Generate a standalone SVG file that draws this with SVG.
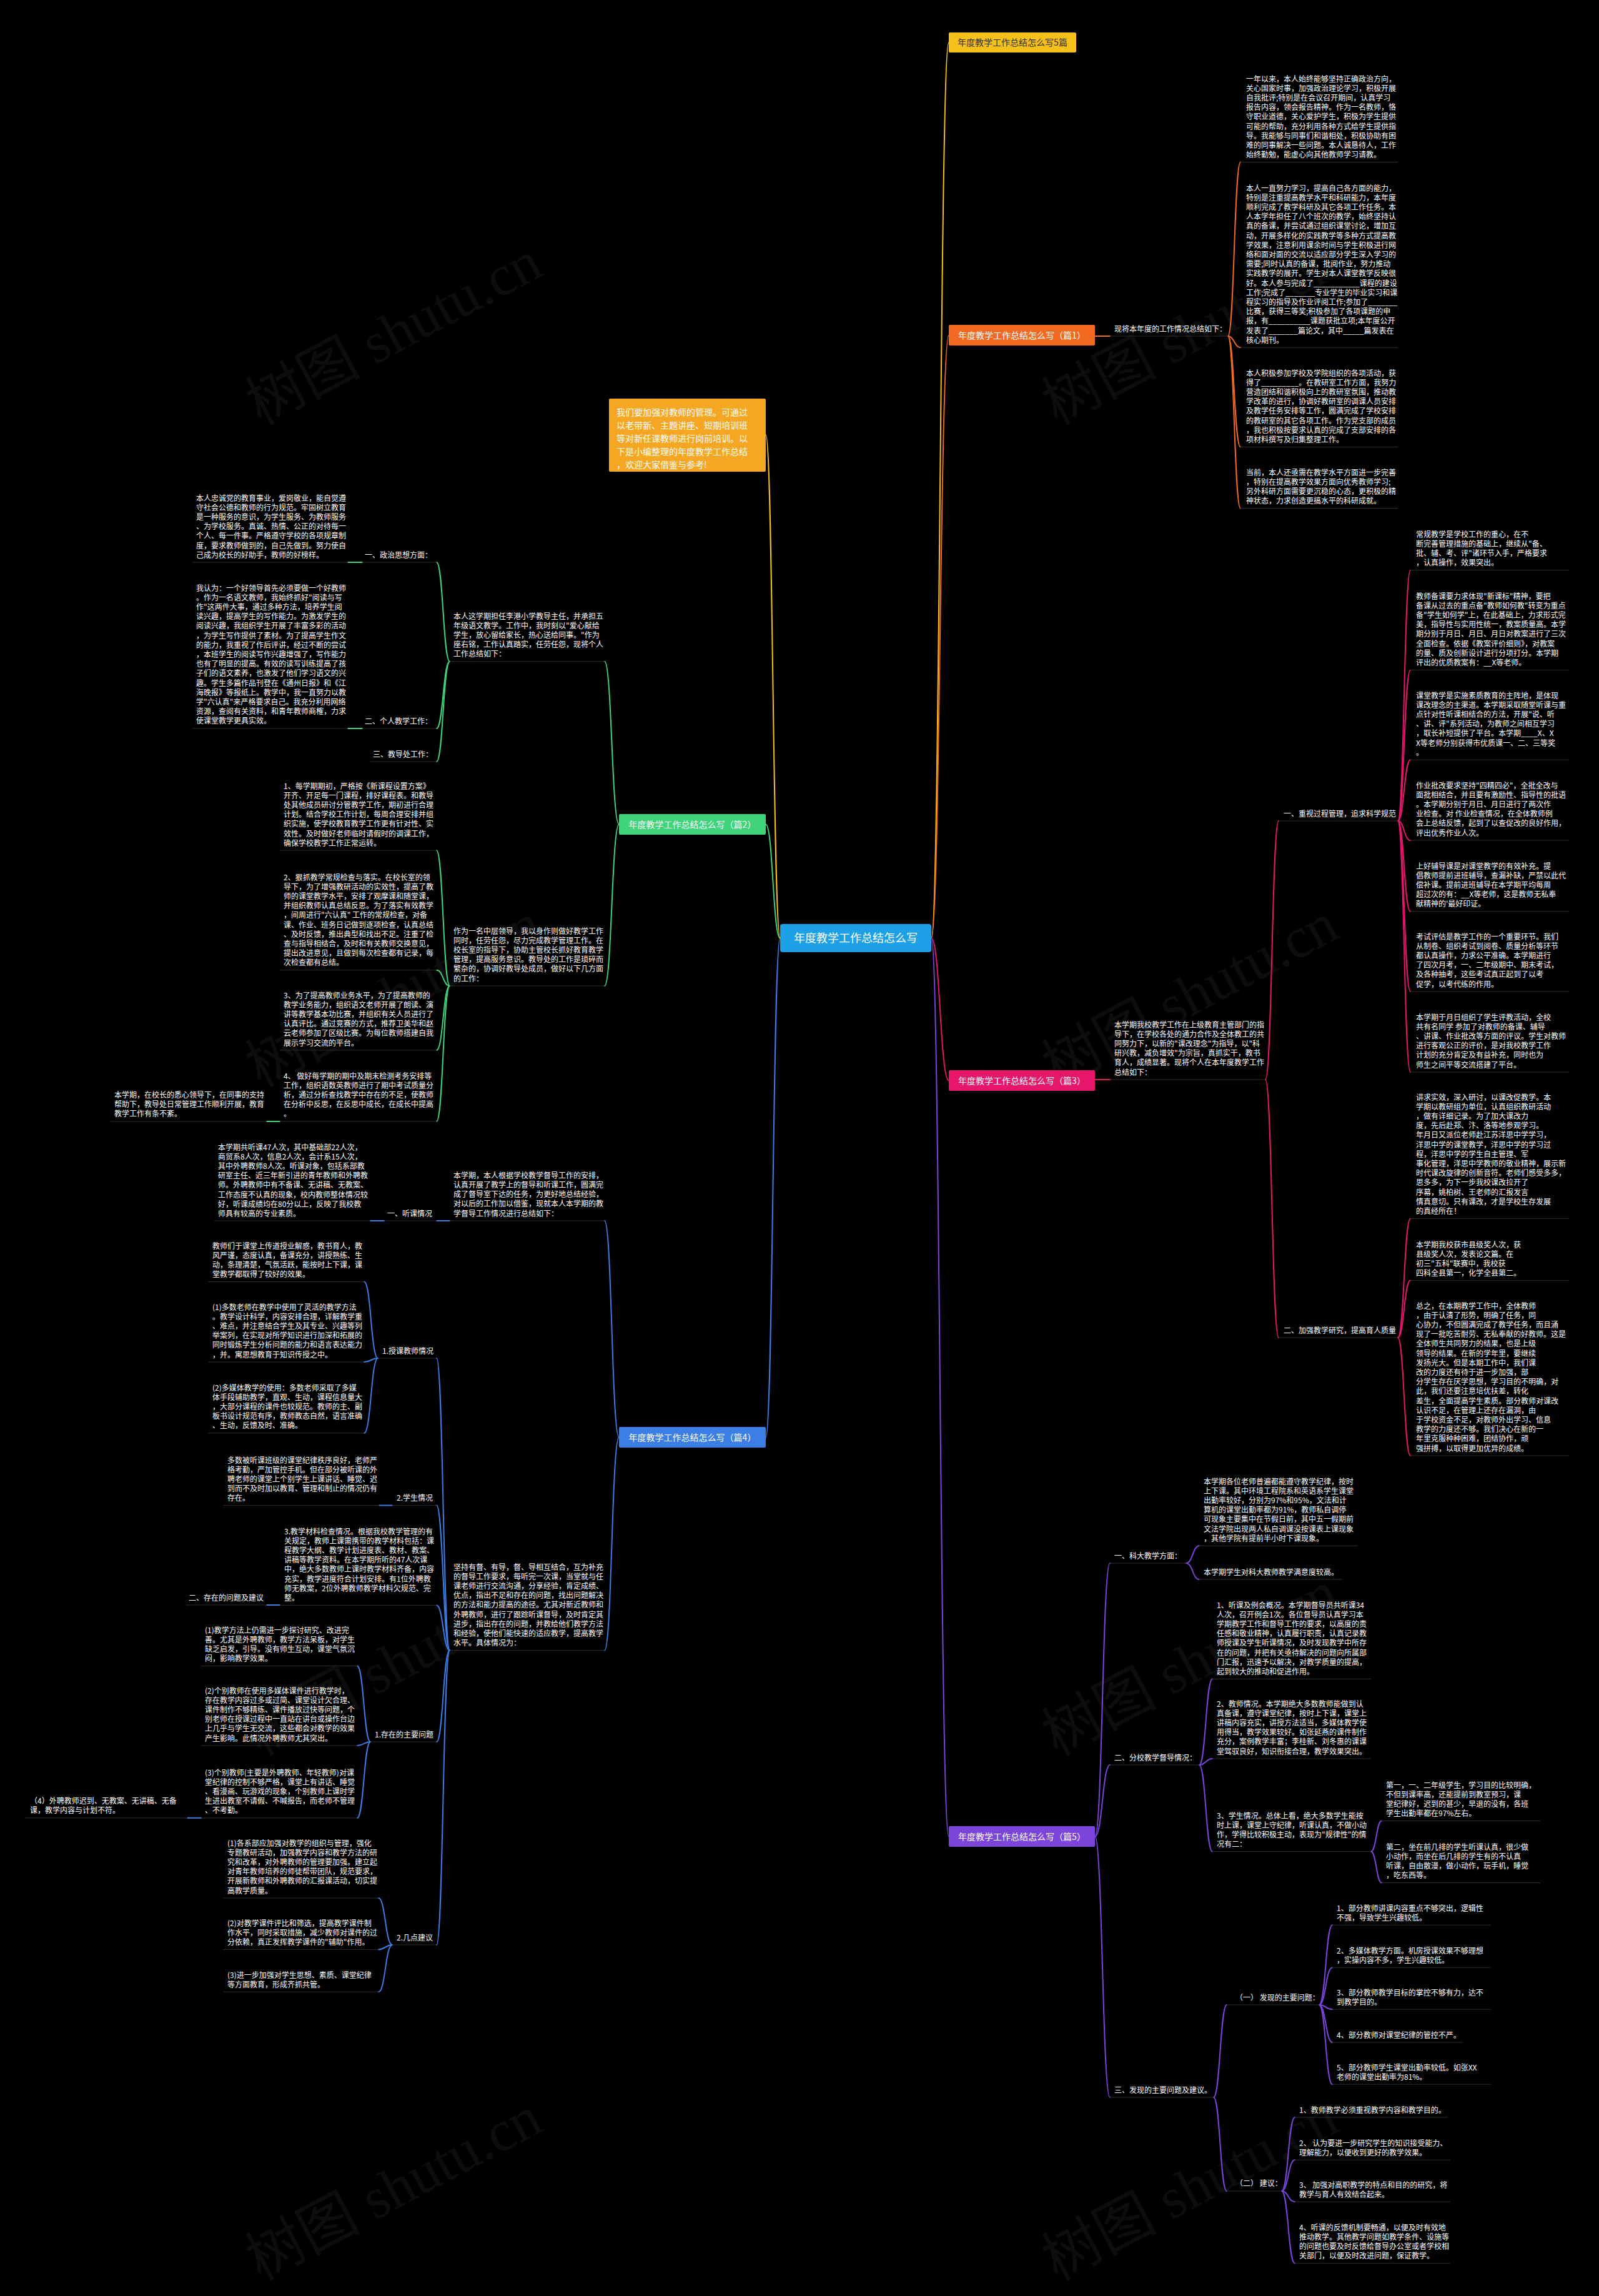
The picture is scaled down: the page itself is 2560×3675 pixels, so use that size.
<svg xmlns="http://www.w3.org/2000/svg" width="2560" height="3675" viewBox="0 0 2560 3675">
<style>
.t{font-family:"Noto Sans CJK SC","Noto Sans",sans-serif;font-size:12px;fill:#ffffff;}
.lb{font-family:"Noto Sans CJK SC","Noto Sans",sans-serif;font-size:12px;fill:#ffffff;}
.bn{font-family:"Noto Sans CJK SC","Noto Sans",sans-serif;font-size:14px;fill:#ffffff;text-anchor:middle;}
.ul{stroke:#2f2f2f;stroke-width:1;fill:none;}
.wm{font-family:"Liberation Serif","Noto Sans CJK SC",serif;font-size:92px;fill:#ffffff;opacity:0.05;}
path,line.c{fill:none;stroke-width:2;stroke-linecap:round;}
.cy{stroke:#f6c01b;}.co{stroke:#f26a21;}.cp{stroke:#e6176b;}.cv{stroke:#7b45dc;}.cg{stroke:#3fd37a;}.cb{stroke:#3b7ee6;}
</style>
<rect x="0" y="0" width="2560" height="3675" fill="#000000"/>
<g id="watermarks">
<text class="wm" transform="translate(645,560) rotate(-28)" text-anchor="middle">树图 shutu.cn</text>
<text class="wm" transform="translate(1920,560) rotate(-28)" text-anchor="middle">树图 shutu.cn</text>
<text class="wm" transform="translate(645,1620) rotate(-28)" text-anchor="middle">树图 shutu.cn</text>
<text class="wm" transform="translate(1920,1620) rotate(-28)" text-anchor="middle">树图 shutu.cn</text>
<text class="wm" transform="translate(645,2690) rotate(-28)" text-anchor="middle">树图 shutu.cn</text>
<text class="wm" transform="translate(1920,2690) rotate(-28)" text-anchor="middle">树图 shutu.cn</text>
<text class="wm" transform="translate(645,3530) rotate(-28)" text-anchor="middle">树图 shutu.cn</text>
<text class="wm" transform="translate(1920,3530) rotate(-28)" text-anchor="middle">树图 shutu.cn</text>
</g>
<g id="connectors">
<path class="cy" stroke-width="3" d="M1491 1501.5 C1505 1501.5 1505 68 1519 68"/>
<path class="co" stroke-width="3" d="M1491 1501.5 C1505 1501.5 1505 537 1519 537"/>
<path class="cp" stroke-width="3" d="M1491 1501.5 C1505 1501.5 1505 1729.5 1519 1729.5"/>
<path class="cv" stroke-width="3" d="M1491 1501.5 C1505 1501.5 1505 2939.5 1519 2939.5"/>
<path class="cg" stroke-width="3" d="M1249 1501.5 C1237.5 1501.5 1237.5 1319.5 1226 1319.5"/>
<path class="cb" stroke-width="3" d="M1249 1501.5 C1237.5 1501.5 1237.5 2300.5 1226 2300.5"/>
<path class="cy" stroke-width="3" d="M1249 1501.5 C1237.5 1501.5 1237.5 696 1226 696"/>
<path class="co" d="M1753 538 L1777 538"/>
<path class="co" d="M1966 538 C1976 538 1976 259.6 1986 259.6"/>
<path class="co" d="M1966 538 C1976 538 1976 556.2 1986 556.2"/>
<path class="co" d="M1966 538 C1976 538 1976 715.4 1986 715.4"/>
<path class="co" d="M1966 538 C1976 538 1976 813.6 1986 813.6"/>
<path class="cp" d="M1753 1728 L1777 1728"/>
<path class="cp" d="M2026 1728 C2036.5 1728 2036.5 1314 2047 1314"/>
<path class="cp" d="M2026 1728 C2036.5 1728 2036.5 2141 2047 2141"/>
<path class="cp" d="M2238 1314 C2248 1314 2248 912.6 2258 912.6"/>
<path class="cp" d="M2238 1314 C2248 1314 2248 1072.4 2258 1072.4"/>
<path class="cp" d="M2238 1314 C2248 1314 2248 1216.2 2258 1216.2"/>
<path class="cp" d="M2238 1314 C2248 1314 2248 1345 2258 1345"/>
<path class="cp" d="M2238 1314 C2248 1314 2248 1458.8 2258 1458.8"/>
<path class="cp" d="M2238 1314 C2248 1314 2248 1587 2258 1587"/>
<path class="cp" d="M2238 1314 C2248 1314 2248 1716 2258 1716"/>
<path class="cp" d="M2238 2141 C2248 2141 2248 1950.4 2258 1950.4"/>
<path class="cp" d="M2238 2141 C2248 2141 2248 2049.6 2258 2049.6"/>
<path class="cp" d="M2238 2141 C2248 2141 2248 2330 2258 2330"/>
<path class="cv" d="M1753 2939.5 C1765 2939.5 1765 2502 1777 2502"/>
<path class="cv" d="M1753 2939.5 C1765 2939.5 1765 2825 1777 2825"/>
<path class="cv" d="M1753 2939.5 C1765 2939.5 1765 3357 1777 3357"/>
<path class="cv" d="M1899 2502 C1909.5 2502 1909.5 2474.2 1920 2474.2"/>
<path class="cv" d="M1899 2502 C1909.5 2502 1909.5 2528 1920 2528"/>
<path class="cv" d="M1920 2825 C1930.5 2825 1930.5 2687.4 1941 2687.4"/>
<path class="cv" d="M1920 2825 C1930.5 2825 1930.5 2815 1941 2815"/>
<path class="cv" d="M1920 2825 C1930.5 2825 1930.5 2963.6 1941 2963.6"/>
<path class="cv" d="M2195 2963.6 C2203.5 2963.6 2203.5 2914.6 2212 2914.6"/>
<path class="cv" d="M2195 2963.6 C2203.5 2963.6 2203.5 3013.6 2212 3013.6"/>
<path class="cv" d="M1943 3357 C1953.5 3357 1953.5 3209 1964 3209"/>
<path class="cv" d="M1943 3357 C1953.5 3357 1953.5 3507 1964 3507"/>
<path class="cv" d="M2112 3209 C2122.5 3209 2122.5 3081.2 2133 3081.2"/>
<path class="cv" d="M2112 3209 C2122.5 3209 2122.5 3149.2 2133 3149.2"/>
<path class="cv" d="M2112 3209 C2122.5 3209 2122.5 3216.2 2133 3216.2"/>
<path class="cv" d="M2112 3209 C2122.5 3209 2122.5 3269 2133 3269"/>
<path class="cv" d="M2112 3209 C2122.5 3209 2122.5 3336.2 2133 3336.2"/>
<path class="cv" d="M2052 3507 C2062.5 3507 2062.5 3389 2073 3389"/>
<path class="cv" d="M2052 3507 C2062.5 3507 2062.5 3457.2 2073 3457.2"/>
<path class="cv" d="M2052 3507 C2062.5 3507 2062.5 3524.2 2073 3524.2"/>
<path class="cv" d="M2052 3507 C2062.5 3507 2062.5 3622.6 2073 3622.6"/>
<path class="cg" d="M991 1319.5 C979.5 1319.5 979.5 1058.8 968 1058.8"/>
<path class="cg" d="M991 1319.5 C979.5 1319.5 979.5 1578 968 1578"/>
<path class="cg" d="M720 1058.8 C709.5 1058.8 709.5 900 699 900"/>
<path class="cg" d="M720 1058.8 C709.5 1058.8 709.5 1166 699 1166"/>
<path class="cg" d="M720 1058.8 C709.5 1058.8 709.5 1219 699 1219"/>
<path class="cg" d="M580 900 L557 900"/>
<path class="cg" d="M580 1166 L557 1166"/>
<path class="cg" d="M720 1578 C709.5 1578 709.5 1361.2 699 1361.2"/>
<path class="cg" d="M720 1578 C709.5 1578 709.5 1552.8 699 1552.8"/>
<path class="cg" d="M720 1578 C709.5 1578 709.5 1681 699 1681"/>
<path class="cg" d="M720 1578 C709.5 1578 709.5 1794.8 699 1794.8"/>
<path class="cg" d="M448 1795 L427 1795"/>
<path class="cb" d="M991 2300.5 C979.5 2300.5 979.5 1954 968 1954"/>
<path class="cb" d="M991 2300.5 C979.5 2300.5 979.5 2641.6 968 2641.6"/>
<path class="cb" d="M720 1954 L699 1954"/>
<path class="cb" d="M615 1954 L593 1954"/>
<path class="cb" d="M720 2641.6 C709.5 2641.6 709.5 2174 699 2174"/>
<path class="cb" d="M720 2641.6 C709.5 2641.6 709.5 2409.5 699 2409.5"/>
<path class="cb" d="M720 2641.6 C709.5 2641.6 709.5 2569.4 699 2569.4"/>
<path class="cb" d="M720 2641.6 C709.5 2641.6 709.5 2788 699 2788"/>
<path class="cb" d="M720 2641.6 C709.5 2641.6 709.5 3113 699 3113"/>
<path class="cb" d="M605 2174 C594 2174 594 2051.6 583 2051.6"/>
<path class="cb" d="M605 2174 C594 2174 594 2180 583 2180"/>
<path class="cb" d="M605 2174 C594 2174 594 2293.8 583 2293.8"/>
<path class="cb" d="M628 2409.5 L607 2409.5"/>
<path class="cb" d="M448 2569 L427 2569"/>
<path class="cb" d="M593 2788 C582.5 2788 582.5 2666.6 572 2666.6"/>
<path class="cb" d="M593 2788 C582.5 2788 582.5 2794 572 2794"/>
<path class="cb" d="M593 2788 C582.5 2788 582.5 2909.8 572 2909.8"/>
<path class="cb" d="M322 2909.8 L300 2909.8"/>
<path class="cb" d="M628 3113 C617 3113 617 3038 606 3038"/>
<path class="cb" d="M628 3113 C617 3113 617 3120.4 606 3120.4"/>
<path class="cb" d="M628 3113 C617 3113 617 3188.2 606 3188.2"/>
</g>

<g id="center"><rect x="1249" y="1479" width="242" height="45" rx="4" fill="#1ea0e6"/><text x="1370" y="1508" font-family="Noto Sans CJK SC,sans-serif" font-size="18" fill="#ffffff" text-anchor="middle">年度教学工作总结怎么写</text></g>
<g id="b5"><rect x="1519" y="52" width="204" height="32" rx="2" fill="#f6c01b"/><text class="bn" x="1621" y="73" style="fill:#333">年度教学工作总结怎么写5篇</text></g>
<g id="b1"><rect x="1519" y="520" width="234" height="33" rx="2" fill="#f26a21"/><text class="bn" x="1636" y="541.5">年度教学工作总结怎么写（篇1）</text></g>
<g id="b3"><rect x="1519" y="1713" width="234" height="33" rx="2" fill="#e6176b"/><text class="bn" x="1636" y="1734.5">年度教学工作总结怎么写（篇3）</text></g>
<g id="b5n"><rect x="1519" y="2923" width="234" height="33" rx="2" fill="#7b45dc"/><text class="bn" x="1636" y="2944.5">年度教学工作总结怎么写（篇5）</text></g>
<g id="b2"><rect x="991" y="1303" width="235" height="33" rx="2" fill="#3fd37a"/><text class="bn" x="1108.5" y="1324.5">年度教学工作总结怎么写（篇2）</text></g>
<g id="b4"><rect x="991" y="2284" width="235" height="33" rx="2" fill="#3b7ee6"/><text class="bn" x="1108.5" y="2305.5">年度教学工作总结怎么写（篇4）</text></g>
<g id="note"><rect x="975" y="638" width="251" height="117" rx="2" fill="#f5a623"/>
<text class="bn" x="987" y="665" style="text-anchor:start"><tspan x="987">我们要加强对教师的管理。可通过</tspan><tspan x="987" dy="21">以老带新、主题讲座、短期培训班</tspan><tspan x="987" dy="21">等对新任课教师进行岗前培训。以</tspan><tspan x="987" dy="21">下是小编整理的年度教学工作总结</tspan><tspan x="987" dy="21">，欢迎大家借鉴与参考!</tspan></text></g>

<g id="p1-label"><text class="lb" x="1784" y="530.5">现将本年度的工作情况总结如下：</text><line class="ul" x1="1777" y1="538" x2="1966" y2="538"/></g>
<g id="p1-b1"><text class="t" x="1995" y="130.5"><tspan x="1995">一年以来，本人始终能够坚持正确政治方向，</tspan><tspan x="1995" dy="15.2">关心国家时事，加强政治理论学习，积极开展</tspan><tspan x="1995" dy="15.2">自我批评;特别是在会议召开期间，认真学习</tspan><tspan x="1995" dy="15.2">报告内容，领会报告精神。作为一名教师，恪</tspan><tspan x="1995" dy="15.2">守职业道德，关心爱护学生，积极为学生提供</tspan><tspan x="1995" dy="15.2">可能的帮助，充分利用各种方式给学生提供指</tspan><tspan x="1995" dy="15.2">导。我能够与同事们和谐相处，积极协助有困</tspan><tspan x="1995" dy="15.2">难的同事解决一些问题。本人诚恳待人，工作</tspan><tspan x="1995" dy="15.2">始终勤勉，能虚心向其他教师学习请教。</tspan></text><line class="ul" x1="1986" y1="259.6" x2="2238" y2="259.6"/></g>
<g id="p1-b2"><text class="t" x="1995" y="305.5"><tspan x="1995">本人一直努力学习，提高自己各方面的能力，</tspan><tspan x="1995" dy="15.2">特别是注重提高教学水平和科研能力，本年度</tspan><tspan x="1995" dy="15.2">顺利完成了教学科研及其它各项工作任务。本</tspan><tspan x="1995" dy="15.2">人本学年担任了八个班次的教学，始终坚持认</tspan><tspan x="1995" dy="15.2">真的备课，并尝试通过组织课堂讨论，增加互</tspan><tspan x="1995" dy="15.2">动，开展多样化的实践教学等多种方式提高教</tspan><tspan x="1995" dy="15.2">学效果，注意利用课余时间与学生积极进行网</tspan><tspan x="1995" dy="15.2">络和面对面的交流以适应部分学生深入学习的</tspan><tspan x="1995" dy="15.2">需要;同时认真的备课，批阅作业，努力推动</tspan><tspan x="1995" dy="15.2">实践教学的展开。学生对本人课堂教学反映很</tspan><tspan x="1995" dy="15.2">好。本人参与完成了___________课程的建设</tspan><tspan x="1995" dy="15.2">工作;完成了_______专业学生的毕业实习和课</tspan><tspan x="1995" dy="15.2">程实习的指导及作业评阅工作;参加了_______</tspan><tspan x="1995" dy="15.2">比赛，获得三等奖;积极参加了各项课题的申</tspan><tspan x="1995" dy="15.2">报，有__________课题获批立项;本年度公开</tspan><tspan x="1995" dy="15.2">发表了_______篇论文，其中_____篇发表在</tspan><tspan x="1995" dy="15.2">核心期刊。</tspan></text><line class="ul" x1="1986" y1="556.2" x2="2238" y2="556.2"/></g>
<g id="p1-b3"><text class="t" x="1995" y="601.5"><tspan x="1995">本人积极参加学校及学院组织的各项活动，获</tspan><tspan x="1995" dy="15.2">得了_________。在教研室工作方面，我努力</tspan><tspan x="1995" dy="15.2">营造团结和谐积极向上的教研室氛围，推动教</tspan><tspan x="1995" dy="15.2">学改革的进行，协调好教研室的调课人员安排</tspan><tspan x="1995" dy="15.2">及教学任务安排等工作，圆满完成了学校安排</tspan><tspan x="1995" dy="15.2">的教研室的其它各项工作。作为党支部的成员</tspan><tspan x="1995" dy="15.2">，我也积极按要求认真的完成了支部安排的各</tspan><tspan x="1995" dy="15.2">项材料撰写及归集整理工作。</tspan></text><line class="ul" x1="1986" y1="715.4" x2="2238" y2="715.4"/></g>
<g id="p1-b4"><text class="t" x="1995" y="760.5"><tspan x="1995">当前，本人还亟需在教学水平方面进一步完善</tspan><tspan x="1995" dy="15.2">，特别在提高教学效果方面向优秀教师学习;</tspan><tspan x="1995" dy="15.2">另外科研方面需要更沉稳的心态，更积极的精</tspan><tspan x="1995" dy="15.2">神状态，力求创造更搞水平的科研成就。</tspan></text><line class="ul" x1="1986" y1="813.6" x2="2238" y2="813.6"/></g>

<g id="p3-intro"><text class="t" x="1784" y="1644.5"><tspan x="1784">本学期我校教学工作在上级教育主管部门的指</tspan><tspan x="1784" dy="15.2">导下，在学校各处的通力合作及全体教工的共</tspan><tspan x="1784" dy="15.2">同努力下，以新的"课改理念"为指导，以"科</tspan><tspan x="1784" dy="15.2">研兴教，减负增效"为宗旨，真抓实干，教书</tspan><tspan x="1784" dy="15.2">育人，成绩显著。现将个人在本年度教学工作</tspan><tspan x="1784" dy="15.2">总结如下：</tspan></text><line class="ul" x1="1777" y1="1728" x2="2026" y2="1728"/></g>
<g id="p3-l1"><text class="lb" x="2055" y="1306.5">一、重视过程管理，追求科学规范</text><line class="ul" x1="2047" y1="1314" x2="2238" y2="1314"/></g>
<g id="p3-l2"><text class="lb" x="2055" y="2133.5">二、加强教学研究，提高育人质量</text><line class="ul" x1="2047" y1="2141" x2="2238" y2="2141"/></g>
<g id="p3-c1"><text class="t" x="2267" y="859.5"><tspan x="2267">常规教学是学校工作的重心，在不</tspan><tspan x="2267" dy="15.2">断完善管理措施的基础上，继续从"备、</tspan><tspan x="2267" dy="15.2">批、辅、考、评"诸环节入手，严格要求</tspan><tspan x="2267" dy="15.2">，认真操作，效果突出。</tspan></text><line class="ul" x1="2258" y1="912.6" x2="2512" y2="912.6"/></g>
<g id="p3-c2"><text class="t" x="2267" y="958.5"><tspan x="2267">教师备课要力求体现"新课标"精神，要把</tspan><tspan x="2267" dy="15.2">备课从过去的重点备"教师如何教"转变为重点</tspan><tspan x="2267" dy="15.2">备"学生如何学"上，在此基础上，力求形式完</tspan><tspan x="2267" dy="15.2">美，指导性与实用性统一，教案质量高。本学</tspan><tspan x="2267" dy="15.2">期分别于月日、月日、月日对教案进行了三次</tspan><tspan x="2267" dy="15.2">全面检查。依据《教案评价细则》，对教案</tspan><tspan x="2267" dy="15.2">的量、质及创新设计进行分项打分。本学期</tspan><tspan x="2267" dy="15.2">评出的优质教案有：__X等老师。</tspan></text><line class="ul" x1="2258" y1="1072.4" x2="2512" y2="1072.4"/></g>
<g id="p3-c3"><text class="t" x="2267" y="1117.5"><tspan x="2267">课堂教学是实施素质教育的主阵地，是体现</tspan><tspan x="2267" dy="15.2">课改理念的主渠道。本学期采取随堂听课与重</tspan><tspan x="2267" dy="15.2">点针对性听课相结合的方法，开展"说、听</tspan><tspan x="2267" dy="15.2">、讲、评"系列活动，为教师之间相互学习</tspan><tspan x="2267" dy="15.2">，取长补短提供了平台。本学期____X、X</tspan><tspan x="2267" dy="15.2">X等老师分别获得市优质课一、二、三等奖</tspan><tspan x="2267" dy="15.2">。</tspan></text><line class="ul" x1="2258" y1="1216.2" x2="2512" y2="1216.2"/></g>
<g id="p3-c4"><text class="t" x="2267" y="1261.5"><tspan x="2267">作业批改要求坚持"四精四必"，全批全改与</tspan><tspan x="2267" dy="15.2">面批相结合，并且要有激励性、指导性的批语</tspan><tspan x="2267" dy="15.2">。本学期分别于月日、月日进行了两次作</tspan><tspan x="2267" dy="15.2">业检查。对 作业检查情况，在全体教师例</tspan><tspan x="2267" dy="15.2">会上总结反馈，起到了以查促改的良好作用，</tspan><tspan x="2267" dy="15.2">评出优秀作业人次。</tspan></text><line class="ul" x1="2258" y1="1345" x2="2512" y2="1345"/></g>
<g id="p3-c5"><text class="t" x="2267" y="1390.5"><tspan x="2267">上好辅导课是对课堂教学的有效补充。提</tspan><tspan x="2267" dy="15.2">倡教师提前进班辅导，查漏补缺，严禁以此代</tspan><tspan x="2267" dy="15.2">偿补课。提前进班辅导在本学期平均每周</tspan><tspan x="2267" dy="15.2">超过次的有：__X等老师，这是教师无私奉</tspan><tspan x="2267" dy="15.2">献精神的'最好印证。</tspan></text><line class="ul" x1="2258" y1="1458.8" x2="2512" y2="1458.8"/></g>
<g id="p3-c6"><text class="t" x="2267" y="1503.5"><tspan x="2267">考试评估是教学工作的一个重要环节。我们</tspan><tspan x="2267" dy="15.2">从制卷、组织考试到阅卷、质量分析等环节</tspan><tspan x="2267" dy="15.2">都认真操作，力求公平准确。本学期进行</tspan><tspan x="2267" dy="15.2">了四次月考，一、二年级期中、期末考试，</tspan><tspan x="2267" dy="15.2">及各种抽考，这些考试真正起到了以考</tspan><tspan x="2267" dy="15.2">促学，以考代练的作用。</tspan></text><line class="ul" x1="2258" y1="1587" x2="2512" y2="1587"/></g>
<g id="p3-c7"><text class="t" x="2267" y="1632.5"><tspan x="2267">本学期于月日组织了学生评教活动，全校</tspan><tspan x="2267" dy="15.2">共有名同学 参加了对教师的备课、辅导</tspan><tspan x="2267" dy="15.2">、讲课、作业批改等方面的评议。学生对教师</tspan><tspan x="2267" dy="15.2">进行客观公正的评价，是对我校教学工作</tspan><tspan x="2267" dy="15.2">计划的充分肯定及有益补充，同时也为</tspan><tspan x="2267" dy="15.2">师生之间平等交流搭建了平台。</tspan></text><line class="ul" x1="2258" y1="1716" x2="2512" y2="1716"/></g>
<g id="p3-c8"><text class="t" x="2267" y="1760.5"><tspan x="2267">讲求实效，深入研讨，以课改促教学。本</tspan><tspan x="2267" dy="15.2">学期以教研组为单位，认真组织教研活动</tspan><tspan x="2267" dy="15.2">，做有详细记录。为了加大课改力</tspan><tspan x="2267" dy="15.2">度，先后赴郑、汴、洛等地参观学习。</tspan><tspan x="2267" dy="15.2">年月日又派位老师赴江苏洋思中学学习，</tspan><tspan x="2267" dy="15.2">洋思中学的课堂教学，洋思中学的学习过</tspan><tspan x="2267" dy="15.2">程，洋思中学的学生自主管理、军</tspan><tspan x="2267" dy="15.2">事化管理，洋思中学教师的敬业精神，展示新</tspan><tspan x="2267" dy="15.2">时代课改旋律的创新音符。老师们感受多多，</tspan><tspan x="2267" dy="15.2">思多多，为下一步我校课改拉开了</tspan><tspan x="2267" dy="15.2">序幕，姚柏树、王老师的汇报发言</tspan><tspan x="2267" dy="15.2">情真意切。只有课改，才是学校生存发展</tspan><tspan x="2267" dy="15.2">的真经所在！</tspan></text><line class="ul" x1="2258" y1="1950.4" x2="2512" y2="1950.4"/></g>
<g id="p3-c9"><text class="t" x="2267" y="1996.5"><tspan x="2267">本学期我校获市县级奖人次，获</tspan><tspan x="2267" dy="15.2">县级奖人次，发表论文篇。在</tspan><tspan x="2267" dy="15.2">初三"五科"联赛中，我校获</tspan><tspan x="2267" dy="15.2">四科全县第一，化学全县第二。</tspan></text><line class="ul" x1="2258" y1="2049.6" x2="2512" y2="2049.6"/></g>
<g id="p3-c10"><text class="t" x="2267" y="2094.5"><tspan x="2267">总之，在本期教学工作中，全体教师</tspan><tspan x="2267" dy="15.2">，由于认清了形势，明确了任务，同</tspan><tspan x="2267" dy="15.2">心协力，不但圆满完成了教学任务，而且涌</tspan><tspan x="2267" dy="15.2">现了一批吃苦耐劳、无私奉献的好教师。这是</tspan><tspan x="2267" dy="15.2">全体师生共同努力的结果，也是上级</tspan><tspan x="2267" dy="15.2">领导的结果。在新的学年里，要继续</tspan><tspan x="2267" dy="15.2">发扬光大。但是本期工作中，我们课</tspan><tspan x="2267" dy="15.2">改的力度还有待于进一步加强，部</tspan><tspan x="2267" dy="15.2">分学生存在厌学思想，学习目的不明确，对</tspan><tspan x="2267" dy="15.2">此，我们还要注意培优扶差，转化</tspan><tspan x="2267" dy="15.2">差生，全面提高学生素质。部分教师对课改</tspan><tspan x="2267" dy="15.2">认识不足，在管理上还存在漏洞，由</tspan><tspan x="2267" dy="15.2">于学校资金不足，对教师外出学习、信息</tspan><tspan x="2267" dy="15.2">教学的力度还不够。我们决心在新的一</tspan><tspan x="2267" dy="15.2">年里克服种种困难，团结协作，顽</tspan><tspan x="2267" dy="15.2">强拼搏，以取得更加优异的成绩。</tspan></text><line class="ul" x1="2258" y1="2330" x2="2512" y2="2330"/></g>

<g id="p5-l1"><text class="lb" x="1784" y="2494.5">一、科大教学方面：</text><line class="ul" x1="1777" y1="2502" x2="1899" y2="2502"/></g>
<g id="p5-l2"><text class="lb" x="1784" y="2817.5">二、分校教学督导情况：</text><line class="ul" x1="1777" y1="2825" x2="1920" y2="2825"/></g>
<g id="p5-l3"><text class="lb" x="1784" y="3349.5">三、发现的主要问题及建议。</text><line class="ul" x1="1777" y1="3357" x2="1943" y2="3357"/></g>
<g id="p5-d1"><text class="t" x="1927" y="2375.5"><tspan x="1927">本学期各位老师普遍都能遵守教学纪律，按时</tspan><tspan x="1927" dy="15.2">上下课。其中环境工程院系和英语系学生课堂</tspan><tspan x="1927" dy="15.2">出勤率较好，分别为97%和95%，文法和计</tspan><tspan x="1927" dy="15.2">算机的课堂出勤率都为91%，教师私自调停</tspan><tspan x="1927" dy="15.2">可现象主要集中在节假日前，其中五一假期前</tspan><tspan x="1927" dy="15.2">文法学院出现两人私自调课没按课表上课现象</tspan><tspan x="1927" dy="15.2">，其他学院有提前半小时下课现象。</tspan></text><line class="ul" x1="1920" y1="2474.2" x2="2174" y2="2474.2"/></g>
<g id="p5-d2"><text class="t" x="1927" y="2520.5">本学期学生对科大教师教学满意度较高。</text><line class="ul" x1="1920" y1="2528" x2="2150" y2="2528"/></g>
<g id="p5-e1"><text class="t" x="1948" y="2573.5"><tspan x="1948">1、听课及例会概况。本学期督导员共听课34</tspan><tspan x="1948" dy="15.2">人次，召开例会1次。各位督导员认真学习本</tspan><tspan x="1948" dy="15.2">学期教学工作和督导工作的要求，以高度的责</tspan><tspan x="1948" dy="15.2">任感和敬业精神，认真履行职责，认真记录教</tspan><tspan x="1948" dy="15.2">师授课及学生听课情况，及时发现教学中所存</tspan><tspan x="1948" dy="15.2">在的问题，并把有关亟待解决的问题向所属部</tspan><tspan x="1948" dy="15.2">门汇报，迅速予以解决，对教学质量的提高，</tspan><tspan x="1948" dy="15.2">起到较大的推动和促进作用。</tspan></text><line class="ul" x1="1941" y1="2687.4" x2="2195" y2="2687.4"/></g>
<g id="p5-e2"><text class="t" x="1948" y="2731.5"><tspan x="1948">2、教师情况。本学期绝大多数教师能做到认</tspan><tspan x="1948" dy="15.2">真备课，遵守课堂纪律，按时上下课，课堂上</tspan><tspan x="1948" dy="15.2">讲稿内容充实，讲授方法适当，多媒体教学使</tspan><tspan x="1948" dy="15.2">用得当，教学效果较好。如张延燕的课件制作</tspan><tspan x="1948" dy="15.2">充分，案例教学丰富；李桂新、刘冬惠的课课</tspan><tspan x="1948" dy="15.2">堂驾驭良好，知识衔接合理，教学效果突出。</tspan></text><line class="ul" x1="1941" y1="2815" x2="2195" y2="2815"/></g>
<g id="p5-e3"><text class="t" x="1948" y="2910.5"><tspan x="1948">3、学生情况。总体上看，绝大多数学生能按</tspan><tspan x="1948" dy="15.2">时上课，课堂上守纪律，听课认真，不做小动</tspan><tspan x="1948" dy="15.2">作，学得比较积极主动，表现为"规律性"的情</tspan><tspan x="1948" dy="15.2">况有二：</tspan></text><line class="ul" x1="1941" y1="2963.6" x2="2195" y2="2963.6"/></g>
<g id="p5-f1"><text class="t" x="2219" y="2861.5"><tspan x="2219">第一，一、二年级学生，学习目的比较明确，</tspan><tspan x="2219" dy="15.2">不但到课率高，还能提前到教室预习，课</tspan><tspan x="2219" dy="15.2">堂纪律好，迟到的甚少，早退的没有，各班</tspan><tspan x="2219" dy="15.2">学生出勤率都在97%左右。</tspan></text><line class="ul" x1="2212" y1="2914.6" x2="2466" y2="2914.6"/></g>
<g id="p5-f2"><text class="t" x="2219" y="2960.5"><tspan x="2219">第二，坐在前几排的学生听课认真，很少做</tspan><tspan x="2219" dy="15.2">小动作，而坐在后几排的学生有的不认真</tspan><tspan x="2219" dy="15.2">听课，自由散漫，做小动作，玩手机，睡觉</tspan><tspan x="2219" dy="15.2">，吃东西等。</tspan></text><line class="ul" x1="2212" y1="3013.6" x2="2466" y2="3013.6"/></g>
<g id="p5-g1"><text class="lb" x="1978" y="3201.5">（一） 发现的主要问题：</text><line class="ul" x1="1964" y1="3209" x2="2112" y2="3209"/></g>
<g id="p5-g2"><text class="lb" x="1978" y="3498.5">（二） 建议：</text><line class="ul" x1="1964" y1="3507" x2="2052" y2="3507"/></g>
<g id="p5-h1"><text class="t" x="2140" y="3058.5"><tspan x="2140">1、部分教师讲课内容重点不够突出，逻辑性</tspan><tspan x="2140" dy="15.2">不强，导致学生兴趣较低。</tspan></text><line class="ul" x1="2133" y1="3081.2" x2="2387" y2="3081.2"/></g>
<g id="p5-h2"><text class="t" x="2140" y="3126.5"><tspan x="2140">2、多媒体教学方面。机房授课效果不够理想</tspan><tspan x="2140" dy="15.2">，实操内容不多，学生兴趣较低。</tspan></text><line class="ul" x1="2133" y1="3149.2" x2="2387" y2="3149.2"/></g>
<g id="p5-h3"><text class="t" x="2140" y="3193.5"><tspan x="2140">3、部分教师教学目标的掌控不够有力，达不</tspan><tspan x="2140" dy="15.2">到教学目的。</tspan></text><line class="ul" x1="2133" y1="3216.2" x2="2387" y2="3216.2"/></g>
<g id="p5-h4"><text class="t" x="2140" y="3261.5">4、部分教师对课堂纪律的管控不严。</text><line class="ul" x1="2133" y1="3269" x2="2341" y2="3269"/></g>
<g id="p5-h5"><text class="t" x="2140" y="3313.5"><tspan x="2140">5、部分教师学生课堂出勤率较低。如张XX</tspan><tspan x="2140" dy="15.2">老师的课堂出勤率为81%。</tspan></text><line class="ul" x1="2133" y1="3336.2" x2="2387" y2="3336.2"/></g>
<g id="p5-i1"><text class="t" x="2080" y="3381.5">1、教师教学必须重视教学内容和教学目的。</text><line class="ul" x1="2073" y1="3389" x2="2318" y2="3389"/></g>
<g id="p5-i2"><text class="t" x="2080" y="3434.5"><tspan x="2080">2、 认为要进一步研究学生的知识接受能力、</tspan><tspan x="2080" dy="15.2">理解能力，以便收到更好的教学效果。</tspan></text><line class="ul" x1="2073" y1="3457.2" x2="2322" y2="3457.2"/></g>
<g id="p5-i3"><text class="t" x="2080" y="3501.5"><tspan x="2080">3、 加强对高职教学的特点和目的的研究，将</tspan><tspan x="2080" dy="15.2">教学与育人有效结合起来。</tspan></text><line class="ul" x1="2073" y1="3524.2" x2="2322" y2="3524.2"/></g>
<g id="p5-i4"><text class="t" x="2080" y="3569.5"><tspan x="2080">4、听课的反馈机制要畅通，以便及时有效地</tspan><tspan x="2080" dy="15.2">推动教学。其他教学问题如教学条件、设施等</tspan><tspan x="2080" dy="15.2">的问题也要及时反馈给督导办公室或者学校相</tspan><tspan x="2080" dy="15.2">关部门，以便及时改进问题，保证教学。</tspan></text><line class="ul" x1="2073" y1="3622.6" x2="2322" y2="3622.6"/></g>

<g id="p2-j1"><text class="t" x="726" y="990.5"><tspan x="726">本人这学期担任李港小学教导主任，并承担五</tspan><tspan x="726" dy="15.2">年级语文教学。工作中，我时刻以"爱心献给</tspan><tspan x="726" dy="15.2">学生，放心留给家长，热心送给同事。"作为</tspan><tspan x="726" dy="15.2">座右铭，工作认真踏实，任劳任怨，现将个人</tspan><tspan x="726" dy="15.2">工作总结如下：</tspan></text><line class="ul" x1="720" y1="1058.8" x2="968" y2="1058.8"/></g>
<g id="p2-j2"><text class="t" x="726" y="1494.5"><tspan x="726">作为一名中层领导，我以身作则做好教学工作</tspan><tspan x="726" dy="15.2">同时，任劳任怨，尽力完成教学管理工作。在</tspan><tspan x="726" dy="15.2">校长室的指导下，协助主管校长抓好教育教学</tspan><tspan x="726" dy="15.2">管理，提高服务意识。教导处的工作是琐碎而</tspan><tspan x="726" dy="15.2">繁杂的，协调好教导处成员，做好以下几方面</tspan><tspan x="726" dy="15.2">的工作：</tspan></text><line class="ul" x1="720" y1="1578" x2="968" y2="1578"/></g>
<g id="p2-k1"><text class="lb" x="584" y="892.5">一、政治思想方面：</text><line class="ul" x1="580" y1="900" x2="699" y2="900"/></g>
<g id="p2-k2"><text class="lb" x="584" y="1158.5">二、个人教学工作：</text><line class="ul" x1="580" y1="1166" x2="699" y2="1166"/></g>
<g id="p2-k3"><text class="lb" x="597" y="1211.5">三、教导处工作：</text><line class="ul" x1="593" y1="1219" x2="699" y2="1219"/></g>
<g id="p2-l1"><text class="t" x="314" y="801.5"><tspan x="314">本人忠诚党的教育事业，爱岗敬业，能自觉遵</tspan><tspan x="314" dy="15.2">守社会公德和教师的行为规范。牢固树立教育</tspan><tspan x="314" dy="15.2">是一种服务的意识，为学生服务、为教师服务</tspan><tspan x="314" dy="15.2">、为学校服务。真诚、热情、公正的对待每一</tspan><tspan x="314" dy="15.2">个人、每一件事。严格遵守学校的各项规章制</tspan><tspan x="314" dy="15.2">度，要求教师做到的，自己先做到。努力使自</tspan><tspan x="314" dy="15.2">己成为校长的好助手，教师的好榜样。</tspan></text><line class="ul" x1="308" y1="900" x2="557" y2="900"/></g>
<g id="p2-l2"><text class="t" x="314" y="945.5"><tspan x="314">我认为：一个好领导首先必须要做一个好教师</tspan><tspan x="314" dy="15.2">。作为一名语文教师，我始终抓好"阅读与写</tspan><tspan x="314" dy="15.2">作"这两件大事，通过多种方法，培养学生阅</tspan><tspan x="314" dy="15.2">读兴趣，提高学生的写作能力。为激发学生的</tspan><tspan x="314" dy="15.2">阅读兴趣，我组织学生开展了丰富多彩的活动</tspan><tspan x="314" dy="15.2">，为学生写作提供了素材。为了提高学生作文</tspan><tspan x="314" dy="15.2">的能力，我重视了作后评讲，经过不断的尝试</tspan><tspan x="314" dy="15.2">，本班学生的阅读写作兴趣增强了，写作能力</tspan><tspan x="314" dy="15.2">也有了明显的提高。有效的读写训练提高了孩</tspan><tspan x="314" dy="15.2">子们的语文素养，也激发了他们学习语文的兴</tspan><tspan x="314" dy="15.2">趣。学生多篇作品刊登在《通州日报》和《江</tspan><tspan x="314" dy="15.2">海晚报》等报纸上。教学中，我一直努力以教</tspan><tspan x="314" dy="15.2">学"六认真"来严格要求自己。我充分利用网络</tspan><tspan x="314" dy="15.2">资源，查阅有关资料，和青年教师商榷，力求</tspan><tspan x="314" dy="15.2">使课堂教学更具实效。</tspan></text><line class="ul" x1="308" y1="1166" x2="557" y2="1166"/></g>
<g id="p2-m1"><text class="t" x="454" y="1262.5"><tspan x="454">1、每学期期初，严格按《新课程设置方案》</tspan><tspan x="454" dy="15.2">开齐、开足每一门课程，排好课程表。和教导</tspan><tspan x="454" dy="15.2">处其他成员研讨分管教学工作，期初进行合理</tspan><tspan x="454" dy="15.2">计划。结合学校工作计划，每周合理安排并组</tspan><tspan x="454" dy="15.2">织实施，使学校教育教学工作更有针对性、实</tspan><tspan x="454" dy="15.2">效性。及时做好老师临时请假时的调课工作，</tspan><tspan x="454" dy="15.2">确保学校教学工作正常运转。</tspan></text><line class="ul" x1="448" y1="1361.2" x2="699" y2="1361.2"/></g>
<g id="p2-m2"><text class="t" x="454" y="1408.5"><tspan x="454">2、狠抓教学常规检查与落实。在校长室的领</tspan><tspan x="454" dy="15.2">导下，为了增强教研活动的实效性，提高了教</tspan><tspan x="454" dy="15.2">师的课堂教学水平，安排了观摩课和随堂课，</tspan><tspan x="454" dy="15.2">并组织教师认真总结反思。为了落实有效教学</tspan><tspan x="454" dy="15.2">，间周进行"六认真" 工作的常规检查，对备</tspan><tspan x="454" dy="15.2">课、作业、班务日记做到逐项检查，认真总结</tspan><tspan x="454" dy="15.2">、及时反馈，推出典型和找出不足。注重了检</tspan><tspan x="454" dy="15.2">查与指导相结合，及时和有关教师交换意见，</tspan><tspan x="454" dy="15.2">提出改进意见，且做到每次检查都有记录，每</tspan><tspan x="454" dy="15.2">次检查都有总结。</tspan></text><line class="ul" x1="448" y1="1552.8" x2="699" y2="1552.8"/></g>
<g id="p2-m3"><text class="t" x="454" y="1597.5"><tspan x="454">3、为了提高教师业务水平，为了提高教师的</tspan><tspan x="454" dy="15.2">教学业务能力，组织语文老师开展了朗读、演</tspan><tspan x="454" dy="15.2">讲等教学基本功比赛，并组织有关人员进行了</tspan><tspan x="454" dy="15.2">认真评比。通过竞赛的方式，推荐卫美华和赵</tspan><tspan x="454" dy="15.2">云老师参加了区级比赛。为每位教师搭建自我</tspan><tspan x="454" dy="15.2">展示学习交流的平台。</tspan></text><line class="ul" x1="448" y1="1681" x2="699" y2="1681"/></g>
<g id="p2-m4"><text class="t" x="454" y="1726.5"><tspan x="454">4、 做好每学期的期中及期末检测考务安排等</tspan><tspan x="454" dy="15.2">工作，组织语数英教师进行了期中考试质量分</tspan><tspan x="454" dy="15.2">析，通过分析查找教学中存在的不足，使教师</tspan><tspan x="454" dy="15.2">在分析中反思，在反思中成长，在成长中提高</tspan><tspan x="454" dy="15.2">。</tspan></text><line class="ul" x1="448" y1="1794.8" x2="699" y2="1794.8"/></g>
<g id="p2-n1"><text class="t" x="183" y="1756.5"><tspan x="183">本学期，在校长的悉心领导下，在同事的支持</tspan><tspan x="183" dy="15.2">帮助下，教导处日常管理工作顺利开展，教育</tspan><tspan x="183" dy="15.2">教学工作有条不紊。</tspan></text><line class="ul" x1="177" y1="1795" x2="427" y2="1795"/></g>

<g id="p4-p1"><text class="t" x="726" y="1885.7"><tspan x="726">本学期，本人根据学校教学督导工作的安排，</tspan><tspan x="726" dy="15.2">认真开展了教学上的督导和听课工作，圆满完</tspan><tspan x="726" dy="15.2">成了督导室下达的任务，为更好地总结经验，</tspan><tspan x="726" dy="15.2">对以后的工作加以借鉴，现就本人本学期的教</tspan><tspan x="726" dy="15.2">学督导工作情况进行总结如下：</tspan></text><line class="ul" x1="720" y1="1954" x2="968" y2="1954"/></g>
<g id="p4-p2"><text class="t" x="726" y="2512.5"><tspan x="726">坚持有督、有导，督、导相互结合，互为补充</tspan><tspan x="726" dy="15.2">的督导工作要求，每听完一次课，当堂就与任</tspan><tspan x="726" dy="15.2">课老师进行交流沟通，分享经验，肯定成绩、</tspan><tspan x="726" dy="15.2">优点，指出不足和存在的问题，找出问题解决</tspan><tspan x="726" dy="15.2">的方法和能力提高的途径。尤其对新近教师和</tspan><tspan x="726" dy="15.2">外聘教师，进行了跟踪听课督导，及时肯定其</tspan><tspan x="726" dy="15.2">进步，指出存在的问题，并教给他们教学方法</tspan><tspan x="726" dy="15.2">和经验，使他们能快速的适应教学，提高教学</tspan><tspan x="726" dy="15.2">水平。具体情况为：</tspan></text><line class="ul" x1="720" y1="2641.6" x2="968" y2="2641.6"/></g>
<g id="p4-q"><text class="lb" x="620" y="1946.5">一、听课情况</text><line class="ul" x1="615" y1="1954" x2="699" y2="1954"/></g>
<g id="p4-r"><text class="t" x="349" y="1840.5"><tspan x="349">本学期共听课47人次，其中基础部22人次，</tspan><tspan x="349" dy="15.2">商贸系8人次，信息2人次，会计系15人次，</tspan><tspan x="349" dy="15.2">其中外聘教师8人次。听课对象，包括系部教</tspan><tspan x="349" dy="15.2">研室主任、近三年新引进的青年教师和外聘教</tspan><tspan x="349" dy="15.2">师。外聘教师中有不备课、无讲稿、无教案、</tspan><tspan x="349" dy="15.2">工作态度不认真的现象，校内教师整体情况较</tspan><tspan x="349" dy="15.2">好，听课成绩均在80分以上，反映了我校教</tspan><tspan x="349" dy="15.2">师具有较高的专业素质。</tspan></text><line class="ul" x1="343" y1="1954" x2="593" y2="1954"/></g>
<g id="p4-s1"><text class="lb" x="612" y="2166.5">1.授课教师情况</text><line class="ul" x1="605" y1="2174" x2="699" y2="2174"/></g>
<g id="p4-s2"><text class="lb" x="635" y="2401.5">2.学生情况</text><line class="ul" x1="628" y1="2409.5" x2="699" y2="2409.5"/></g>
<g id="p4-s3"><text class="t" x="455" y="2455.5"><tspan x="455">3.教学材料检查情况。根据我校教学管理的有</tspan><tspan x="455" dy="15.2">关规定，教师上课需携带的教学材料包括：课</tspan><tspan x="455" dy="15.2">程教学大纲、教学计划进度表、教材、教案、</tspan><tspan x="455" dy="15.2">讲稿等教学资料。在本学期所听的47人次课</tspan><tspan x="455" dy="15.2">中，绝大多数教师上课时教学材料齐备，内容</tspan><tspan x="455" dy="15.2">充实，教学进度符合计划安排。有1位外聘教</tspan><tspan x="455" dy="15.2">师无教案，2位外聘教师教学材料欠规范、完</tspan><tspan x="455" dy="15.2">整。</tspan></text><line class="ul" x1="448" y1="2569.4" x2="699" y2="2569.4"/></g>
<g id="p4-s4"><text class="lb" x="600" y="2780.5">1.存在的主要问题</text><line class="ul" x1="593" y1="2788" x2="699" y2="2788"/></g>
<g id="p4-s5"><text class="lb" x="635" y="3105.5">2.几点建议</text><line class="ul" x1="628" y1="3113" x2="699" y2="3113"/></g>
<g id="p4-t1"><text class="t" x="340" y="1998.5"><tspan x="340">教师们于课堂上传道授业解惑，教书育人，教</tspan><tspan x="340" dy="15.2">风严谨，态度认真，备课充分，讲授熟练、生</tspan><tspan x="340" dy="15.2">动，条理清楚，气氛活跃，能按时上下课，课</tspan><tspan x="340" dy="15.2">堂教学都取得了较好的效果。</tspan></text><line class="ul" x1="333" y1="2051.6" x2="583" y2="2051.6"/></g>
<g id="p4-t2"><text class="t" x="340" y="2096.5"><tspan x="340">(1)多数老师在教学中使用了灵活的教学方法</tspan><tspan x="340" dy="15.2">。教学设计科学，内容安排合理，详解教学重</tspan><tspan x="340" dy="15.2">、难点，并注意结合学生及其专业、兴趣等列</tspan><tspan x="340" dy="15.2">举案列，在实现对所学知识进行加深和拓展的</tspan><tspan x="340" dy="15.2">同时锻炼学生分析问题的能力和语言表达能力</tspan><tspan x="340" dy="15.2">，并。寓思想教育于知识传授之中。</tspan></text><line class="ul" x1="333" y1="2180" x2="583" y2="2180"/></g>
<g id="p4-t3"><text class="t" x="340" y="2225.5"><tspan x="340">(2)多媒体教学的使用：多数老师采取了多媒</tspan><tspan x="340" dy="15.2">体手段辅助教学，直观、生动，课程信息量大</tspan><tspan x="340" dy="15.2">，大部分课程的课件也较规范。教师的主、副</tspan><tspan x="340" dy="15.2">板书设计规范有序，教师教态自然，语言准确</tspan><tspan x="340" dy="15.2">、生动，反馈及时、准确。</tspan></text><line class="ul" x1="333" y1="2293.8" x2="583" y2="2293.8"/></g>
<g id="p4-u"><text class="t" x="364" y="2341.5"><tspan x="364">多数被听课班级的课堂纪律秩序良好，老师严</tspan><tspan x="364" dy="15.2">格考勤，严加管控手机。但在部分被听课的外</tspan><tspan x="364" dy="15.2">聘老师的课堂上个别学生上课讲话、睡觉、迟</tspan><tspan x="364" dy="15.2">到而不及时加以教育、管理和制止的情况仍有</tspan><tspan x="364" dy="15.2">存在。</tspan></text><line class="ul" x1="358" y1="2409.5" x2="607" y2="2409.5"/></g>
<g id="p4-v"><text class="lb" x="302" y="2561.5">二、存在的问题及建议</text><line class="ul" x1="297" y1="2569" x2="427" y2="2569"/></g>
<g id="p4-w1"><text class="t" x="328" y="2613.5"><tspan x="328">(1)教学方法上仍需进一步探讨研究、改进完</tspan><tspan x="328" dy="15.2">善。尤其是外聘教师，教学方法呆板，对学生</tspan><tspan x="328" dy="15.2">缺乏启发，引导。没有师生互动，课堂气氛沉</tspan><tspan x="328" dy="15.2">闷，影响教学效果。</tspan></text><line class="ul" x1="322" y1="2666.6" x2="572" y2="2666.6"/></g>
<g id="p4-w2"><text class="t" x="328" y="2710.5"><tspan x="328">(2)个别教师在使用多媒体课件进行教学时，</tspan><tspan x="328" dy="15.2">存在教学内容过多或过简、课堂设计欠合理、</tspan><tspan x="328" dy="15.2">课件制作不够精练、课件播放过快等问题，个</tspan><tspan x="328" dy="15.2">别老师在授课过程中一直站在讲台或操作台边</tspan><tspan x="328" dy="15.2">上几乎与学生无交流，这些都会对教学的效果</tspan><tspan x="328" dy="15.2">产生影响。此情况外聘教师尤其突出。</tspan></text><line class="ul" x1="322" y1="2794" x2="572" y2="2794"/></g>
<g id="p4-w3"><text class="t" x="328" y="2841.5"><tspan x="328">(3)个别教师(主要是外聘教师、年轻教师)对课</tspan><tspan x="328" dy="15.2">堂纪律的控制不够严格，课堂上有讲话、睡觉</tspan><tspan x="328" dy="15.2">、看漫画、玩游戏的现象，个别教师上课时学</tspan><tspan x="328" dy="15.2">生进出教室不请假、不喊报告，而老师不管理</tspan><tspan x="328" dy="15.2">、不考勤。</tspan></text><line class="ul" x1="322" y1="2909.8" x2="572" y2="2909.8"/></g>
<g id="p4-x"><text class="t" x="48" y="2887.1"><tspan x="48">（4）外聘教师迟到、无教案、无讲稿、无备</tspan><tspan x="48" dy="15.2">课，教学内容与计划不符。</tspan></text><line class="ul" x1="40" y1="2909.8" x2="300" y2="2909.8"/></g>
<g id="p4-y1"><text class="t" x="364" y="2954.5"><tspan x="364">(1)各系部应加强对教学的组织与管理，强化</tspan><tspan x="364" dy="15.2">专题教研活动，加强教学内容和教学方法的研</tspan><tspan x="364" dy="15.2">究和改革，对外聘教师的管理要加强。建立起</tspan><tspan x="364" dy="15.2">对青年教师培养的师徒帮带团队，规范要求，</tspan><tspan x="364" dy="15.2">开展新教师和外聘教师的汇报课活动，切实提</tspan><tspan x="364" dy="15.2">高教学质量。</tspan></text><line class="ul" x1="357" y1="3038" x2="606" y2="3038"/></g>
<g id="p4-y2"><text class="t" x="364" y="3082.5"><tspan x="364">(2)对教学课件评比和筛选，提高教学课件制</tspan><tspan x="364" dy="15.2">作水平，同时采取措施，减少教师对课件的过</tspan><tspan x="364" dy="15.2">分依赖，真正发挥教学课件的"辅助"作用。</tspan></text><line class="ul" x1="357" y1="3120.4" x2="606" y2="3120.4"/></g>
<g id="p4-y3"><text class="t" x="364" y="3165.5"><tspan x="364">(3)进一步加强对学生思想、素质、课堂纪律</tspan><tspan x="364" dy="15.2">等方面教育，形成齐抓共管。</tspan></text><line class="ul" x1="357" y1="3188.2" x2="606" y2="3188.2"/></g>
</svg>
